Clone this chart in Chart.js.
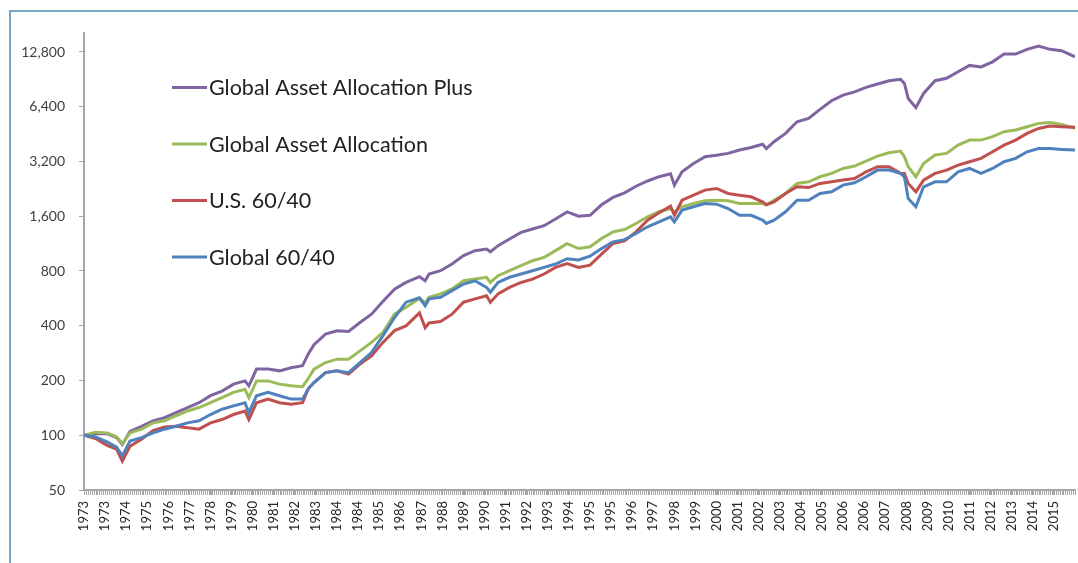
<!DOCTYPE html>
<html><head><meta charset="utf-8">
<script src="https://cdn.jsdelivr.net/npm/chart.js@4/dist/chart.umd.min.js"></script>
<style>html,body{margin:0;padding:0;background:#fff;}canvas{display:block}</style>
</head><body>
<canvas id="c" width="1078" height="563"></canvas>
<script>
const dates = ['1973-01','1973-07','1974-01','1974-06','1974-09','1975-01','1975-07','1976-01','1976-07','1977-01','1977-07','1978-01','1978-07','1979-01','1979-07','1980-01','1980-03','1980-07','1981-01','1981-07','1982-01','1982-07','1982-10','1983-01','1983-07','1984-01','1984-07','1985-01','1985-07','1986-01','1986-07','1987-01','1987-08','1987-11','1988-01','1988-07','1989-01','1989-07','1990-01','1990-07','1990-09','1991-01','1991-07','1992-01','1992-07','1993-01','1993-07','1994-01','1994-07','1995-01','1995-07','1996-01','1996-07','1997-01','1997-07','1998-01','1998-07','1998-09','1999-01','1999-07','2000-01','2000-07','2001-01','2001-07','2002-01','2002-07','2002-09','2003-01','2003-07','2004-01','2004-07','2005-01','2005-07','2006-01','2006-07','2007-01','2007-07','2008-01','2008-07','2008-09','2008-11','2009-03','2009-07','2010-01','2010-07','2011-01','2011-07','2012-01','2012-07','2013-01','2013-07','2014-01','2014-07','2015-01','2015-07','2016-02'];

const tickLabels = ['1973','1973','1974','1975','1976','1977','1978','1979','1980','1981','1982','1983','1984','1984','1985','1986','1987','1988','1989','1990','1991','1992','1993','1994','1995','1995','1996','1997','1998','1999','2000','2001','2002','2003','2004','2005','2006','2006','2007','2008','2009','2010','2011','2012','2013','2014','2015'];

const yTickValues = [50, 100, 200, 400, 800, 1600, 3200, 6400, 12800];

const gaaPlus = [100,102,102,97,89,105,112,120,125,133,142,151,165,175,191,199,187,231,231,226,235,241,280,315,360,375,372,417,463,546,636,692,745,707,770,803,874,972,1035,1057,1020,1102,1200,1305,1361,1420,1545,
1690,1600,1620,1850,2030,2150,2340,2500,2640,2740,2370,2810,3120,3400,3460,3545,3700,3820,3980,3770,4110,4570,5290,5520,6190,6910,7420,7730,8180,8530,8900,9050,8600,7100,6330,7570,8900,9170,9960,10800,10600,11300,12470,12470,13240,13800,13240,13020,12050];

const gaa = [100,104,103,98,90,103,108,117,120,128,136,142,151,161,172,179,161,199,199,191,187,185,205,231,251,262,262,291,324,368,463,506,565,535,574,599,637,707,722,739,692,754,803,856,911,950,1035,
1130,1063,1088,1208,1313,1353,1460,1589,1693,1765,1693,1803,1880,1945,1960,1945,1880,1880,1880,1850,1960,2135,2424,2476,2637,2752,2930,3020,3216,3428,3575,3650,3400,2995,2637,3123,3472,3545,3939,4195,4195,4380,4667,4765,4970,5185,5235,5120,4865];

const us6040 = [100,96,88,84,72,87,95,106,111,112,110,108,117,122,130,136,122,151,158,151,148,151,180,195,221,226,217,246,273,324,376,399,470,390,414,422,463,539,562,585,539,599,650,692,722,770,838,
880,836,861,990,1133,1172,1313,1523,1671,1819,1620,1960,2090,2228,2275,2135,2090,2047,1921,1850,1921,2135,2323,2300,2424,2476,2529,2581,2810,2995,2995,2752,2752,2424,2181,2529,2752,2870,3057,3190,3327,3618,3939,4195,4568,4865,5010,4970,4930];

const global6040 = [100,98,92,86,77,93,97,103,108,112,117,120,130,139,145,151,133,165,172,165,158,158,180,195,221,226,221,251,285,353,444,539,570,516,562,574,624,678,707,650,611,692,739,770,803,838,874,
935,920,965,1063,1157,1190,1286,1400,1491,1589,1491,1729,1803,1880,1865,1765,1620,1620,1523,1460,1523,1693,1960,1960,2135,2181,2373,2443,2637,2870,2870,2752,2637,2004,1803,2323,2476,2476,2810,2930,2752,2930,3190,3327,3618,3770,3770,3730,3697];

const seriesNames = ['Global Asset Allocation Plus','Global Asset Allocation','U.S. 60/40','Global 60/40'];
const seriesValues = [gaaPlus, gaa, us6040, global6040];
const seriesColors = ['#8064A2','#9BBB59','#C0504D','#4F81BD'];

const toMonth = d => { const p = d.split('-').map(Number); return (p[0]-1973)*12 + (p[1]-1); };
const lastMonth = toMonth(dates[dates.length-1]);
const LABEL_STEP = 11; // months between category labels
const fmt = v => String(v).replace(/\B(?=(\d{3})+(?!\d))/g, ',');
const AXIS = '#a6a6a6';
const FONT = 'Lato, "Open Sans", sans-serif';

const frame = {
  id: 'frame',
  beforeDraw(chart) {
    const c = chart.ctx;
    c.save();
    c.strokeStyle = '#7aa6c8';
    c.lineWidth = 2;
    c.beginPath();
    c.moveTo(10, 563); c.lineTo(10, 11); c.lineTo(1078, 11);
    c.stroke();
    c.restore();
  }
};

const minorTicks = {
  id: 'minorTicks',
  afterDraw(chart) {
    const s = chart.scales.x, c = chart.ctx;
    c.save();
    c.strokeStyle = AXIS; c.lineWidth = 1;
    c.beginPath();
    for (let m = 0; m <= lastMonth; m++) {
      const px = Math.round(s.getPixelForValue(m)) + 0.5;
      c.moveTo(px, s.top); c.lineTo(px, s.top + 5);
    }
    c.stroke();
    c.restore();
  }
};

const insideLegend = {
  id: 'insideLegend',
  afterDraw(chart) {
    const c = chart.ctx;
    c.save();
    chart.data.datasets.forEach((ds, i) => {
      const y = 87.5 + i * 56.5;
      c.strokeStyle = ds.borderColor; c.lineWidth = 3;
      c.beginPath(); c.moveTo(172, y); c.lineTo(207, y); c.stroke();
      c.fillStyle = '#222';
      c.font = '21.5px ' + FONT;
      c.textBaseline = 'middle'; c.textAlign = 'left';
      c.fillText(ds.label, 209, y + 1);
    });
    c.restore();
  }
};

new Chart(document.getElementById('c'), {
  type: 'line',
  data: {
    datasets: seriesNames.map((name, k) => ({
      label: name,
      data: dates.map((d, i) => ({ x: toMonth(d), y: seriesValues[k][i] })),
      borderColor: seriesColors[k],
      backgroundColor: seriesColors[k],
      borderWidth: 3,
      pointRadius: 0,
      tension: 0,
      order: 4 - k
    }))
  },
  options: {
    responsive: false,
    animation: false,
    layout: { padding: { top: 33, right: 3, left: 0, bottom: 0 } },
    plugins: { legend: { display: false }, tooltip: { enabled: false } },
    scales: {
      x: {
        type: 'linear', min: 0, max: lastMonth,
        afterBuildTicks: s => { s.ticks = tickLabels.map((_, i) => ({ value: i * LABEL_STEP })); },
        afterFit: s => { s.height = 73; },
        ticks: { autoSkip: false, maxRotation: 90, minRotation: 90, padding: 6,
                 callback: (v, i) => tickLabels[i],
                 font: { family: FONT, size: 13 }, color: '#262626' },
        grid: { drawOnChartArea: false, drawTicks: true, tickLength: 5, color: AXIS },
        border: { color: AXIS, width: 2 }
      },
      y: {
        type: 'logarithmic', min: 50, max: 16280,
        afterBuildTicks: s => { s.ticks = yTickValues.map(v => ({ value: v })); },
        afterFit: s => { s.width = 84; },
        ticks: { padding: 14, callback: v => fmt(v),
                 font: { family: FONT, size: 14 }, color: '#404040' },
        grid: { drawOnChartArea: false, drawTicks: true, tickLength: 5, color: AXIS },
        border: { color: AXIS, width: 2 }
      }
    }
  },
  plugins: [frame, minorTicks, insideLegend]
});
</script>
</body></html>
